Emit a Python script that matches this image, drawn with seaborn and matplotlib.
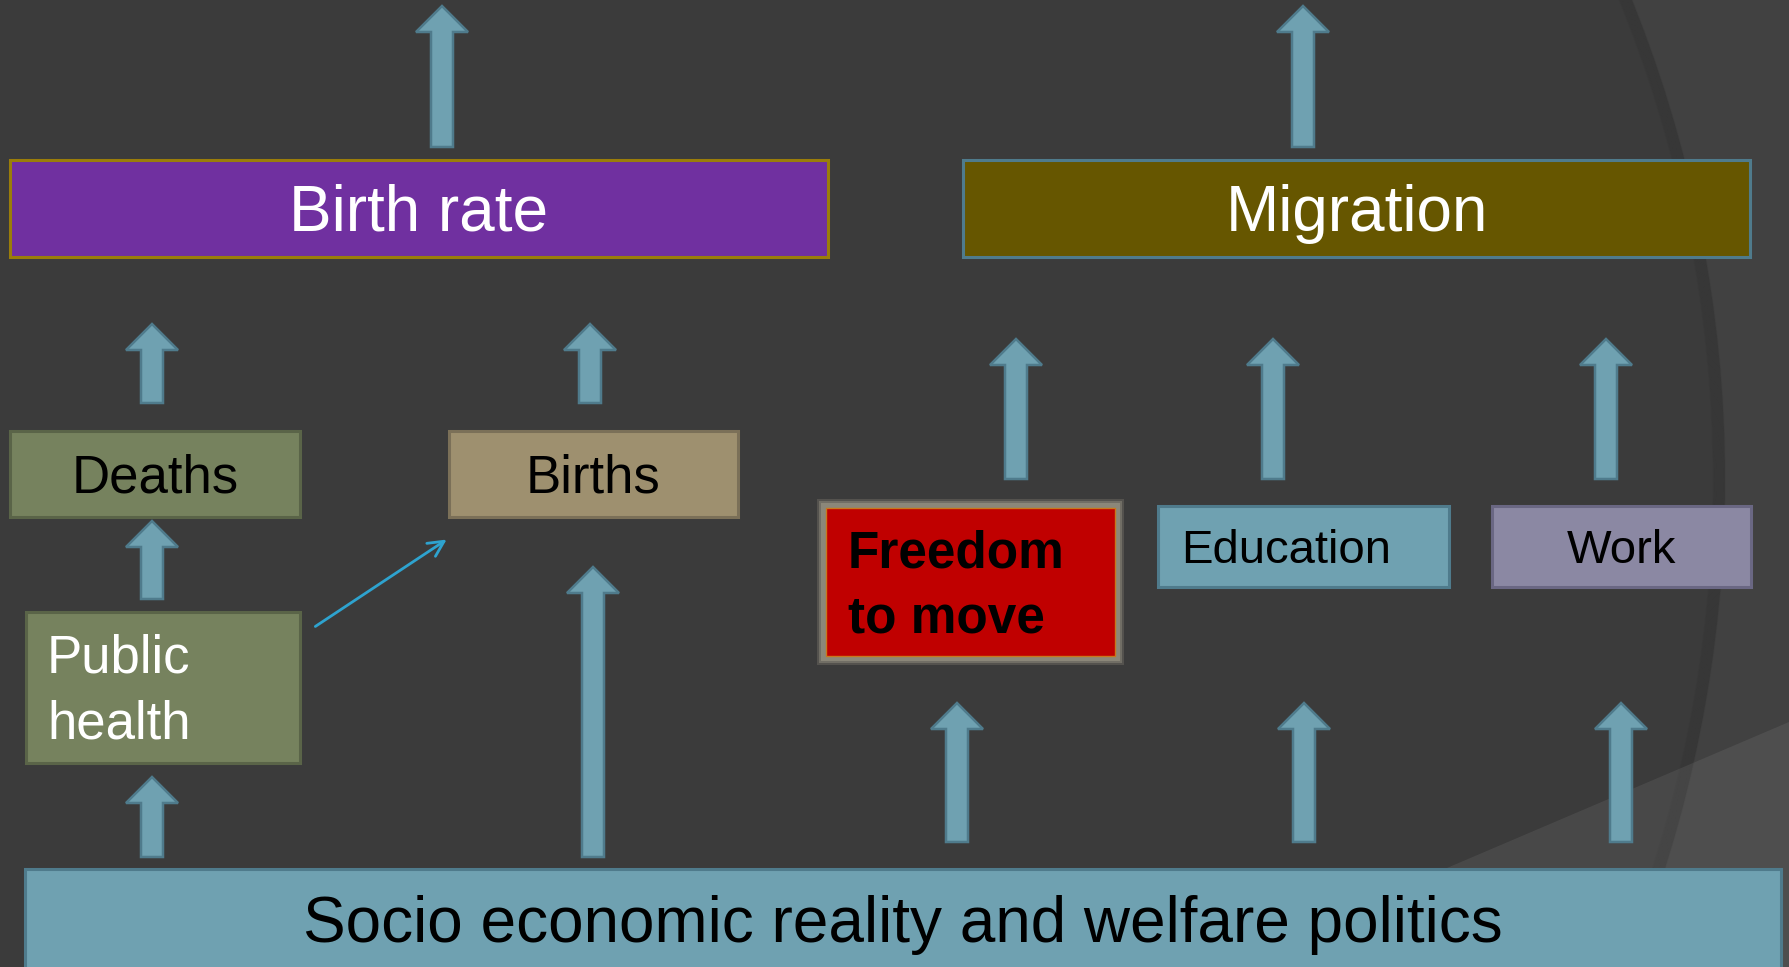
import matplotlib
matplotlib.use('Agg')
import matplotlib.pyplot as plt
import seaborn as sns
from matplotlib.patches import Circle, Polygon

sns.set_theme(style='dark', rc={'figure.facecolor': '#414141', 'axes.facecolor': '#414141'})
plt.rcParams['font.family'] = ['Liberation Sans', 'DejaVu Sans']

# boxes of the diagram (pixel space of the slide)
labels = ["Birth rate", "Migration", "Deaths", "Births", "Public\nhealth",
          "Freedom\nto move", "Education", "Work",
          "Socio economic reality and welfare politics"]
box_left = [10, 963, 10, 449, 26, 826, 1158, 1492, 25]
box_top = [160, 160, 431, 431, 612, 508, 506, 506, 869]
box_right = [828, 1750, 300, 738, 300, 1115, 1449, 1751, 1781]
box_bottom = [257, 257, 517, 517, 763, 656, 587, 587, 970]

# block arrows: x, start (base) and end (tip)
arrow_x = [442, 1303, 152, 590, 152, 593, 152, 1016, 1273, 1606, 957, 1304, 1621]
arrow_base = [147, 147, 403, 403, 599, 857, 857, 479, 479, 479, 842, 842, 842]
arrow_tip = [6, 6, 324, 324, 521, 567, 777, 339, 339, 339, 703, 703, 703]

# thin connector public health -> births
link_from = (313, 628)
link_to = (449, 538)

fills = ['#7030a0', '#665600', '#76825e', '#9e906f', '#76825e',
         '#c00000', '#6fa1b1', '#8b88a3', '#6fa1b1']
edges = ['#9a7d0a', '#4f7b8c', '#5a6448', '#7b7058', '#5a6448',
         '#c8781e', '#4f7b8c', '#6a6783', '#4f7b8c']
sizes = [46, 46, 38, 38, 38, 37, 34, 34, 46]
colors = ['white', 'white', 'black', 'black', 'white', 'black', 'black', 'black', 'black']
weights = ['normal'] * 5 + ['bold'] + ['normal'] * 3
align = ['center', 'center', 'center', 'center', 'left', 'left', 'left', 'center', 'center']
text_left = {4: 47, 5: 848, 6: 1181}

fig = plt.figure(figsize=(17.89, 9.67), dpi=100)
ax = fig.add_axes([0, 0, 1, 1])
ax.set_xlim(0, 1789)
ax.set_ylim(967, 0)
ax.axis('off')

# slide decoration: big circle with soft shadowed edge + light wedge bottom right
R = 1285
ax.add_patch(Circle((440, 480), R, fc='#3b3b3b', ec='none', zorder=0))
for k in range(14):
    ax.add_patch(Circle((440, 480), R - k * 0.9, fill=False, ec='black',
                        lw=1.2, alpha=0.025, zorder=0.5))
ax.add_patch(Polygon([(1215, 967), (1789, 722), (1789, 967)], closed=True,
                     fc='white', alpha=0.07, ec='none', zorder=0.6))

# soft glow behind the red box
for pad, a in [(9, 0.3), (7, 0.5), (5, 0.9)]:
    ax.bar(box_left[5] - pad, box_bottom[5] - box_top[5] + 2 * pad,
           width=box_right[5] - box_left[5] + 2 * pad, bottom=box_top[5] - pad,
           align='edge', color='#8f8a7c', alpha=a, lw=0, zorder=1)

widths = [r - l for l, r in zip(box_left, box_right)]
heights = [b - t for t, b in zip(box_top, box_bottom)]
lws = [2.2] * 9
lws[5] = 1.0
ax.bar(box_left, heights, width=widths, bottom=box_top, align='edge',
       color=fills, edgecolor=edges, linewidth=lws, zorder=2)

for x, b, t in zip(arrow_x, arrow_base, arrow_tip):
    ax.arrow(x, b, 0, t - b, width=22, head_width=52, head_length=26,
             length_includes_head=True, fc='#6fa1b1', ec='#4f7b8c', lw=1.8, zorder=3)

ax.annotate('', xy=link_to, xytext=link_from,
            arrowprops=dict(arrowstyle='->', color='#2ea3cf', lw=2, mutation_scale=28),
            zorder=3)

for i, lab in enumerate(labels):
    lines = lab.split('\n')
    px = sizes[i] * 100 / 72
    gap = 1.25 * px
    cy = (box_top[i] + box_bottom[i]) / 2
    if align[i] == 'left':
        x, ha = text_left[i], 'left'
    else:
        x, ha = (box_left[i] + box_right[i]) / 2, 'center'
    for j, line in enumerate(lines):
        y = cy + 0.35 * px + (j - (len(lines) - 1) / 2) * gap
        ax.text(x, y, line, ha=ha, va='baseline', fontsize=sizes[i],
                color=colors[i], fontweight=weights[i], zorder=4)

fig.savefig('out.png', dpi=100, facecolor=fig.get_facecolor())
